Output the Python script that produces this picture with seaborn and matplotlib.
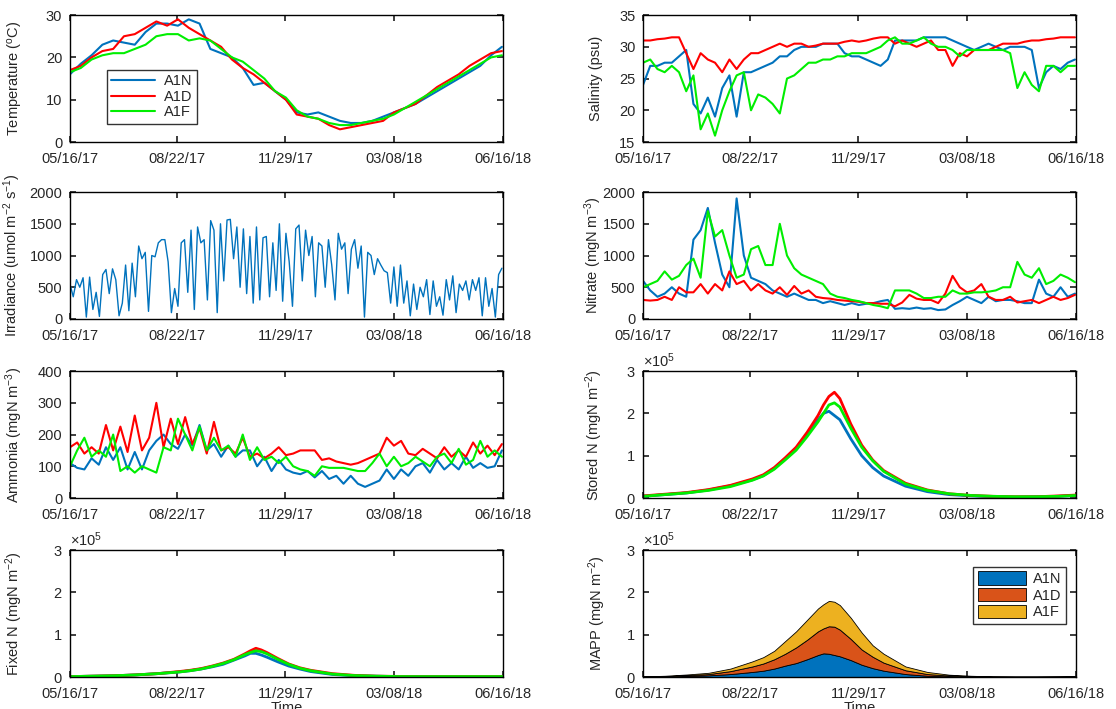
import numpy as np
import pandas as pd
import matplotlib
matplotlib.use("Agg")
import matplotlib.pyplot as plt
import seaborn as sns

# ---- data ----
start, end = "2017-05-16", "2018-06-16"
tick_dates = ["2017-05-16", "2017-08-22", "2017-11-29", "2018-03-08", "2018-06-16"]
tick_labels = ["05/16/17", "08/22/17", "11/29/17", "03/08/18", "06/16/18"]
sites = ["A1N", "A1D", "A1F"]

# temperature, 41 samples
temp_n = [16, 18.5, 20.5, 23, 24, 23.5, 23, 26, 28, 28, 27.5, 29, 28, 22, 21, 20, 17.5, 13.5, 14, 12,
          10, 7, 6.5, 7, 6, 5, 4.5, 4.5, 5, 6, 7, 8, 9, 10.5, 12, 13.5, 15, 16.5, 18, 20.5, 22.5]
temp_d = [17, 18, 20, 21.5, 22, 25, 25.5, 27, 28.5, 27.5, 29, 27, 25.5, 24, 22.5, 19.5, 17.5, 16, 14, 12,
          10, 6.5, 6, 5.5, 4, 3, 3.5, 4, 4.5, 5, 7, 8, 9, 11, 13, 14.5, 16, 18, 19.5, 21, 21.5]
temp_f = [16.5, 17.5, 19.5, 20.5, 21, 21, 22, 23, 25, 25.5, 25.5, 24, 24.5, 24, 22, 20, 19, 17, 15, 12,
          10.5, 7.5, 6, 5.5, 4.5, 4, 4, 4.5, 5, 5.5, 6.5, 8, 9.5, 11, 12.5, 14, 15.5, 17, 18.5, 20, 20.5]

# salinity, 61 samples
sal_n = [24, 27, 27, 27.5, 27.5, 28.5, 29.5, 21, 19.5, 22, 19, 23.5, 25.5, 19, 26, 26, 26.5, 27, 27.5, 28.5,
         28.5, 29.5, 30, 30, 30, 30.5, 30.5, 30.5, 29, 28.5, 28.5, 28, 27.5, 27, 28, 31, 31, 31, 31, 31.5,
         31.5, 31.5, 31.5, 31, 30.5, 30, 29.5, 30, 30.5, 30, 29.5, 30, 30, 30, 29.5, 23.5, 26, 27, 26.5, 27.5, 28]
sal_d = [31, 31, 31.2, 31.3, 31.5, 31.5, 29, 26.5, 29, 28, 27.5, 26, 28, 26.5, 28, 29, 29, 29.5, 30, 30.5,
         30, 30.5, 30.5, 30, 30.2, 30.5, 30.5, 30.5, 30.8, 31, 30.8, 31, 31.3, 31.5, 31.5, 30.5, 31, 30.5, 30, 30.5,
         31, 29.5, 29.5, 27, 29, 28.5, 29.5, 29.5, 29.5, 30, 30.5, 30.5, 30.5, 30.8, 31, 31, 31.2, 31.3, 31.5, 31.5, 31.5]
sal_f = [27.5, 28, 26.5, 26, 27, 26, 23, 25.5, 17, 19.5, 16, 20, 23, 25.5, 26, 20, 22.5, 22, 21, 19.5,
         25, 25.5, 26.5, 27.5, 27.5, 28, 28, 28.5, 28.5, 29, 29, 29, 29.5, 30, 31, 31.5, 30.5, 30.5, 31, 31.5,
         30.5, 30, 30, 29.5, 28.5, 29.5, 29.5, 29.5, 29.5, 29.5, 29.5, 29, 23.5, 26, 24, 23, 27, 27, 26, 27, 27]

# irradiance, 133 samples
irradiance = [550, 350, 620, 500, 650, 30, 660, 150, 420, 40,
              700, 780, 400, 790, 620, 50, 250, 850, 130, 880,
              350, 1150, 950, 1050, 120, 1000, 980, 1200, 1250, 1250,
              900, 100, 480, 200, 1200, 1250, 420, 1400, 150, 1450,
              1200, 1250, 300, 1550, 1400, 100, 1500, 600, 1560, 1570,
              950, 1450, 500, 1420, 400, 1300, 250, 1450, 300, 1280,
              1300, 350, 1200, 450, 1500, 280, 1350, 900, 200, 1420,
              1480, 600, 1400, 1000, 1300, 350, 1200, 1150, 500, 1250,
              850, 300, 1350, 1100, 1200, 400, 1100, 1250, 800, 1150,
              30, 1050, 1000, 700, 950, 850, 760, 730, 250, 820,
              200, 850, 250, 600, 50, 550, 150, 500, 350, 620,
              70, 600, 200, 350, 60, 620, 300, 680, 100, 550,
              450, 600, 300, 620, 450, 650, 50, 650, 200, 480,
              30, 700, 800]

# nitrate, 61 samples
nit_n = [600, 450, 350, 400, 500, 400, 350, 1250, 1400, 1750, 1200, 700, 500, 1900, 1000, 650, 600, 550, 450, 400,
         350, 400, 350, 300, 300, 250, 280, 250, 220, 250, 220, 240, 250, 280, 300, 160, 170, 160, 180, 160,
         170, 140, 150, 220, 280, 350, 300, 250, 350, 280, 300, 300, 280, 250, 250, 620, 400, 350, 500, 350, 400]
nit_d = [300, 290, 300, 350, 300, 500, 420, 420, 550, 400, 550, 450, 750, 550, 600, 450, 550, 450, 400, 500,
         380, 520, 400, 450, 350, 330, 320, 300, 290, 280, 270, 250, 250, 240, 240, 200, 260, 380, 320, 300,
         300, 250, 400, 680, 500, 420, 450, 550, 350, 300, 300, 350, 260, 280, 300, 250, 300, 350, 300, 330, 380]
nit_f = [500, 550, 600, 750, 620, 680, 850, 950, 650, 1700, 1300, 1400, 1000, 650, 700, 1100, 1150, 850, 850, 1500,
         1000, 800, 700, 650, 600, 550, 400, 350, 330, 300, 280, 250, 220, 200, 170, 450, 450, 450, 400, 330,
         330, 350, 350, 450, 400, 400, 420, 420, 430, 450, 500, 500, 900, 700, 650, 800, 550, 600, 700, 650, 580]

# ammonia, 61 samples
amm_n = [110, 95, 90, 125, 105, 160, 120, 160, 90, 145, 90, 150, 180, 200, 170, 155, 200, 165, 230, 150,
         170, 130, 165, 130, 150, 150, 100, 130, 85, 120, 90, 80, 75, 85, 65, 85, 60, 70, 45, 70,
         45, 35, 45, 55, 90, 60, 90, 70, 100, 110, 80, 120, 90, 110, 90, 130, 95, 110, 95, 100, 150]
amm_d = [160, 175, 140, 160, 140, 230, 150, 225, 145, 260, 150, 190, 300, 160, 250, 170, 255, 170, 220, 140,
         240, 150, 160, 140, 190, 130, 140, 125, 140, 160, 135, 140, 150, 150, 150, 120, 125, 115, 110, 105,
         110, 120, 130, 140, 190, 165, 180, 140, 135, 155, 140, 125, 160, 130, 150, 130, 175, 140, 165, 135, 170]
amm_f = [100, 150, 190, 130, 150, 130, 200, 85, 100, 80, 100, 90, 80, 160, 150, 250, 200, 150, 225, 150,
         190, 150, 165, 130, 200, 120, 160, 120, 130, 110, 130, 100, 90, 85, 70, 100, 95, 95, 95, 90,
         85, 85, 110, 140, 100, 130, 100, 110, 130, 115, 100, 130, 140, 110, 155, 105, 120, 180, 130, 150, 130]

# smooth model outputs (units of 1e5 mgN m-2) on a day grid
model_days = [0, 20, 40, 60, 80, 100, 110, 120, 130, 140, 150, 160, 165, 170, 175,
              180, 190, 200, 210, 220, 240, 260, 280, 300, 320, 340, 360, 380, 396]
stored_n = [0.04, 0.08, 0.12, 0.19, 0.29, 0.43, 0.53, 0.7, 0.93, 1.18, 1.5, 1.85, 2.0, 2.05, 1.95,
            1.85, 1.4, 1.0, 0.72, 0.52, 0.28, 0.15, 0.08, 0.05, 0.03, 0.02, 0.03, 0.04, 0.06]
stored_d = [0.05, 0.09, 0.13, 0.2, 0.3, 0.45, 0.55, 0.72, 0.95, 1.2, 1.55, 1.95, 2.2, 2.4, 2.5,
            2.35, 1.75, 1.25, 0.9, 0.65, 0.35, 0.19, 0.1, 0.06, 0.04, 0.03, 0.03, 0.05, 0.07]
stored_f = [0.04, 0.08, 0.12, 0.18, 0.27, 0.42, 0.52, 0.68, 0.9, 1.13, 1.45, 1.8, 2.0, 2.2, 2.25,
            2.15, 1.65, 1.2, 0.88, 0.63, 0.33, 0.18, 0.1, 0.06, 0.04, 0.03, 0.03, 0.04, 0.06]
fixed_n = [0.01, 0.02, 0.03, 0.05, 0.08, 0.12, 0.15, 0.19, 0.24, 0.3, 0.4, 0.5, 0.56, 0.56, 0.52,
           0.47, 0.36, 0.26, 0.19, 0.13, 0.06, 0.03, 0.02, 0.01, 0.01, 0.01, 0.01, 0.01, 0.01]
fixed_d = [0.01, 0.02, 0.03, 0.05, 0.08, 0.13, 0.16, 0.2, 0.26, 0.33, 0.42, 0.55, 0.62, 0.68, 0.64,
           0.58, 0.44, 0.31, 0.22, 0.16, 0.08, 0.04, 0.02, 0.015, 0.01, 0.01, 0.01, 0.01, 0.01]
fixed_f = [0.01, 0.02, 0.03, 0.05, 0.08, 0.12, 0.15, 0.19, 0.25, 0.32, 0.41, 0.53, 0.58, 0.62, 0.6,
           0.55, 0.42, 0.3, 0.21, 0.15, 0.07, 0.035, 0.02, 0.012, 0.01, 0.01, 0.01, 0.01, 0.01]
mapp_n = [0.005, 0.01, 0.02, 0.04, 0.07, 0.12, 0.15, 0.2, 0.27, 0.33, 0.42, 0.52, 0.56, 0.55, 0.52,
          0.49, 0.4, 0.29, 0.21, 0.15, 0.07, 0.03, 0.015, 0.008, 0.005, 0.004, 0.004, 0.005, 0.007]
mapp_d = [0.005, 0.01, 0.02, 0.03, 0.07, 0.13, 0.17, 0.22, 0.28, 0.37, 0.46, 0.56, 0.59, 0.65, 0.67,
          0.63, 0.5, 0.36, 0.27, 0.19, 0.09, 0.04, 0.02, 0.012, 0.005, 0.004, 0.004, 0.005, 0.006]
mapp_f = [0.005, 0.01, 0.02, 0.03, 0.06, 0.12, 0.15, 0.2, 0.3, 0.38, 0.47, 0.54, 0.57, 0.6, 0.59,
          0.58, 0.5, 0.4, 0.27, 0.21, 0.09, 0.05, 0.02, 0.01, 0.005, 0.004, 0.004, 0.005, 0.007]

# ---- style ----
sns.set_theme(style="ticks")
plt.rcParams["font.family"] = ["Liberation Sans", "DejaVu Sans"]
plt.rcParams.update({
    "mathtext.default": "regular",
    "xtick.direction": "in", "ytick.direction": "in",
    "xtick.top": True, "ytick.right": True,
    "xtick.major.size": 4, "ytick.major.size": 4,
    "xtick.major.pad": 7, "ytick.major.pad": 5.5,
    "xtick.labelsize": 10.5, "ytick.labelsize": 10.5,
    "axes.labelsize": 10.5, "axes.linewidth": 1.0,
    "axes.edgecolor": "black", "text.color": "#262626",
    "xtick.color": "#262626", "ytick.color": "#262626",
})
line_colors = ["#0072BD", "#FF0000", "#00EE00"]
area_colors = ["#0072BD", "#D95319", "#EDB120"]

fig = plt.figure(figsize=(11.16, 7.09), dpi=100)
lefts = [0.0627, 0.5762]
bottoms = [0.7997, 0.5501, 0.2976, 0.0451]
w, h = 0.388, 0.179
axs = [[fig.add_axes([l, b, w, h]) for l in lefts] for b in bottoms]

t0 = pd.Timestamp(start)
def grid(n):
    return pd.date_range(start, "2018-06-15", periods=n)
model_dates = t0 + pd.to_timedelta(model_days, unit="D")


def draw_three(ax, x, series, lw=1.5, scale=1.0, labels=None):
    for i, s in enumerate(series):
        sns.lineplot(x=x, y=np.asarray(s) * scale, ax=ax, color=line_colors[i], lw=lw,
                     label=labels[i] if labels else None, legend=bool(labels))


def finish(ax, ylim, yticks, ylabel, label_x):
    ax.set_xlim(pd.Timestamp(start), pd.Timestamp(end))
    ax.set_xticks(pd.to_datetime(tick_dates))
    ax.set_xticklabels(tick_labels)
    ax.set_ylim(*ylim)
    ax.set_yticks(yticks)
    ax.set_ylabel(ylabel)
    ax.yaxis.set_label_coords(label_x, 0.5)
    ax.set_xlabel("")
    for s in ax.spines.values():
        s.set_visible(True)


# temperature
ax = axs[0][0]
draw_three(ax, grid(41), [temp_n, temp_d, temp_f], labels=sites)
finish(ax, (0, 30), [0, 10, 20, 30], "Temperature ($^{o}$C)", -0.104)
leg = ax.legend(loc="upper left", bbox_to_anchor=(0.085, 0.567), borderaxespad=0, fontsize=10.5,
                frameon=True, fancybox=False, edgecolor="black", handlelength=3.0,
                borderpad=0.3, labelspacing=0.1, handletextpad=0.6)
leg.get_frame().set_linewidth(1.0)

# salinity
ax = axs[0][1]
draw_three(ax, grid(61), [sal_n, sal_d, sal_f])
finish(ax, (15, 35), [15, 20, 25, 30, 35], "Salinity (psu)", -0.092)

# irradiance
ax = axs[1][0]
sns.lineplot(x=grid(133), y=irradiance, ax=ax, color=line_colors[0], lw=1.0)
finish(ax, (0, 2000), [0, 500, 1000, 1500, 2000], "Irradiance (umol m$^{-2}$ s$^{-1}$)", -0.109)

# nitrate
ax = axs[1][1]
draw_three(ax, grid(61), [nit_n, nit_d, nit_f])
finish(ax, (0, 2000), [0, 500, 1000, 1500, 2000], "Nitrate (mgN m$^{-3}$)", -0.090)

# ammonia
ax = axs[2][0]
draw_three(ax, grid(61), [amm_n, amm_d, amm_f])
finish(ax, (0, 400), [0, 100, 200, 300, 400], "Ammonia (mgN m$^{-3}$)", -0.105)

# stored N
ax = axs[2][1]
draw_three(ax, model_dates, [stored_n, stored_d, stored_f], lw=2.0, scale=1e5)
finish(ax, (0, 3e5), [0, 1e5, 2e5, 3e5], "Stored N (mgN m$^{-2}$)", -0.088)

# fixed N
ax = axs[3][0]
draw_three(ax, model_dates, [fixed_n, fixed_d, fixed_f], lw=2.0, scale=1e5)
finish(ax, (0, 3e5), [0, 1e5, 2e5, 3e5], "Fixed N (mgN m$^{-2}$)", -0.104)
ax.set_xlabel("Time", labelpad=0)

# MAPP stacked
ax = axs[3][1]
ax.stackplot(model_dates, np.array(mapp_n) * 1e5, np.array(mapp_d) * 1e5, np.array(mapp_f) * 1e5,
             colors=area_colors, edgecolor="black", linewidth=0.6, labels=sites)
finish(ax, (0, 3e5), [0, 1e5, 2e5, 3e5], "MAPP (mgN m$^{-2}$)", -0.081)
ax.set_xlabel("Time", labelpad=0)
leg = ax.legend(loc="upper right", bbox_to_anchor=(0.977, 0.866), borderaxespad=0, fontsize=10.5,
                frameon=True, fancybox=False, edgecolor="black", handlelength=3.3, handleheight=1.0,
                borderpad=0.3, labelspacing=0.15, handletextpad=0.5)
leg.get_frame().set_linewidth(1.0)

for ax in [axs[2][1], axs[3][0], axs[3][1]]:
    ax.ticklabel_format(axis="y", style="sci", scilimits=(5, 5), useMathText=True)

fig.savefig("out.png", dpi=100)
